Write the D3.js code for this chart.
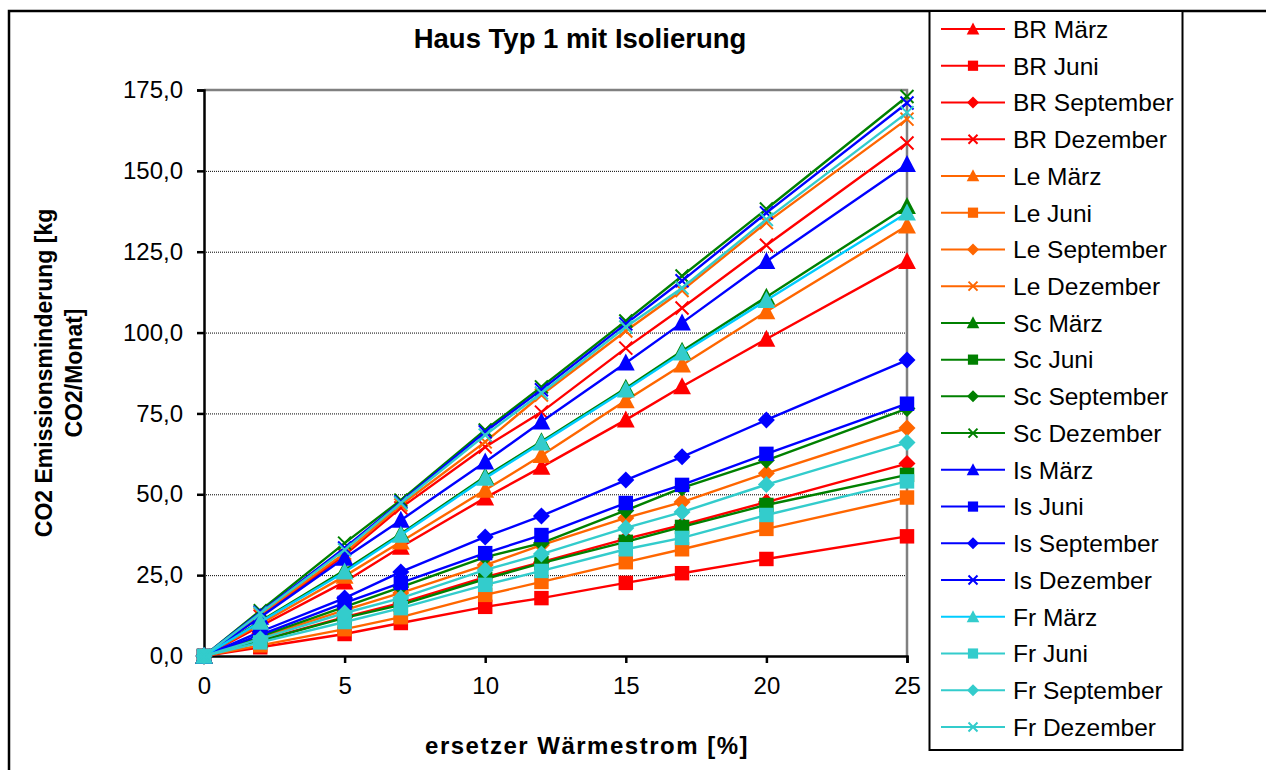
<!DOCTYPE html>
<html>
<head>
  <meta charset="utf-8">
  <title>Haus Typ 1 mit Isolierung</title>
  <script src="https://d3js.org/d3.v7.min.js"></script>
  <style>
    body { margin: 0; background: #fff; }
    svg { font-family: "Liberation Sans", Arial, sans-serif; }
  </style>
</head>
<body>
<div id="chart"></div>
<script>
  const width = 1266,
    height = 770;
  const margin = { top: 90, right: 359, bottom: 114, left: 204 };

  // data
  const xValues = [0, 2, 5, 7, 10, 12, 15, 17, 20, 25];
  const xTicks = [0, 5, 10, 15, 20, 25];
  const yTicks = [0, 25, 50, 75, 100, 125, 150, 175];
  const months = ['März', 'Juni', 'September', 'Dezember'];
  const regions = ['BR', 'Le', 'Sc', 'Is', 'Fr'];

  const brValues = [
    [0, 9.2, 22.9, 33.7, 48.9, 58.4, 73, 83.3, 98, 122],
    [0, 2.7, 6.8, 10.2, 15.2, 17.9, 22.6, 25.6, 30, 37],
    [0, 4.8, 12, 16.4, 24.4, 29, 36.2, 40.5, 47.6, 59.5],
    [0, 12.3, 31.2, 45.8, 64.6, 75.4, 95.2, 107.6, 127, 158.6]
  ];
  const leValues = [
    [0, 9.9, 24.7, 35.3, 51.3, 62, 79, 90, 106.5, 133],
    [0, 3.3, 8.3, 12, 18.9, 22.9, 29, 33, 39.3, 49],
    [0, 5.7, 14.2, 19.5, 28.1, 34.3, 42.7, 47.6, 56.5, 70.5],
    [0, 12.8, 31.8, 46.7, 66.2, 80.7, 100.5, 113, 134, 166]
  ];
  const scValues = [
    [0, 10.7, 26.5, 37.8, 55.5, 66.3, 82.8, 94.3, 111, 139],
    [0, 4.7, 11.8, 15.8, 23.8, 28.7, 35.3, 39.9, 46.7, 56],
    [0, 6.1, 15.2, 21.3, 30.6, 34.9, 45, 52, 60.5, 76.5],
    [0, 14, 34.9, 48.2, 69.9, 83.2, 103.6, 117.5, 138.2, 173]
  ];
  const isValues = [
    [0, 12, 30.3, 42, 60, 72.4, 90.6, 103, 122, 152],
    [0, 6.5, 16.4, 22.6, 31.8, 37.4, 47.3, 52.9, 62.5, 78],
    [0, 7.5, 17.9, 26, 36.8, 43.3, 54.4, 61.6, 73, 91.5],
    [0, 13.5, 33.4, 47.6, 69.3, 82.3, 102.7, 116, 137, 171]
  ];
  const frValues = [
    [0, 10.5, 26, 37.4, 55, 65.9, 82.3, 93.7, 110, 137],
    [0, 4.2, 10.5, 14.8, 22, 26.3, 33, 36.5, 43.6, 54],
    [0, 5.3, 13.3, 17.9, 26.6, 31.5, 39.6, 44.5, 53, 66],
    [0, 13.2, 32.8, 47.3, 68.3, 81.3, 101.7, 113.8, 135, 168]
  ];

  const regionValues = { BR: brValues, Le: leValues, Sc: scValues, Is: isValues, Fr: frValues };
  const regionColor = { BR: '#ff0000', Le: '#ff6600', Sc: '#008000', Is: '#0000ff', Fr: '#33cccc' };
  const shapes = ['triangle', 'square', 'diamond', 'cross'];

  var series = [];
  regions.forEach(function(r) {
    months.forEach(function(m, i) {
      series.push({
        name: r + ' ' + m,
        values: regionValues[r][i],
        shape: shapes[i],
        marker: regionColor[r],
        line: (r == 'Fr' && i == 0) ? '#00ccff' : regionColor[r]
      });
    });
  });

  var x = d3.scaleLinear()
    .domain([0, 25])
    .range([margin.left, width - margin.right]);
  var y = d3.scaleLinear()
    .domain([0, 175])
    .range([height - margin.bottom, margin.top]);

  var svg = d3.select('#chart')
    .append('svg')
    .attr('width', width)
    .attr('height', height);

  // outer frame
  svg.append('path')
    .attr('d', 'M9,' + (height + 5) + 'V11H' + (width + 5))
    .attr('fill', 'none')
    .attr('stroke', '#000')
    .attr('stroke-width', 2.5);

  // gridlines
  svg.append('g')
    .selectAll('line')
    .data(yTicks.slice(1, -1))
    .enter()
    .append('line')
    .attr('x1', x(0))
    .attr('x2', x(25))
    .attr('y1', function(d) { return y(d) + 0.5; })
    .attr('y2', function(d) { return y(d) + 0.5; })
    .attr('stroke', '#000')
    .attr('stroke-width', 1)
    .style('stroke-dasharray', '1, 1');

  // plot area border (top + right), grey
  svg.append('path')
    .attr('d', 'M' + x(0) + ',' + y(175) + 'H' + x(25) + 'V' + y(0))
    .attr('fill', 'none')
    .attr('stroke', '#808080')
    .attr('stroke-width', 2.5);

  // axes
  var yAxis = svg.append('g')
    .attr('transform', 'translate(' + x(0) + ',0)')
    .call(d3.axisLeft(y).tickValues(yTicks).tickSize(7).tickPadding(14)
      .tickFormat(function(d) { return d3.format('.1f')(d).replace('.', ','); }));
  var xAxis = svg.append('g')
    .attr('transform', 'translate(0,' + y(0) + ')')
    .call(d3.axisBottom(x).tickValues(xTicks).tickSize(7).tickPadding(14));

  [xAxis, yAxis].forEach(function(a) {
    a.select('.domain').attr('stroke-width', 2.5);
    a.selectAll('.tick line').attr('stroke-width', 2.5);
    a.selectAll('.tick text')
      .attr('font-size', '24px')
      .attr('fill', '#000')
      .style('font-family', '"Liberation Sans", Arial, sans-serif');
  });
  xAxis.selectAll('.tick text').attr('dy', '0.71em');

  function marker(g, shape, color, s) {
    if (shape == 'cross') {
      g.append('path')
        .attr('d', 'M' + (-s) + ',' + (-s) + 'L' + s + ',' + s + 'M' + (-s) + ',' + s + 'L' + s + ',' + (-s))
        .attr('stroke', color)
        .attr('stroke-width', 2)
        .attr('fill', 'none');
    } else if (shape == 'triangle') {
      g.append('path')
        .attr('d', 'M0,' + (-s * 1.1) + 'L' + (s * 1.05) + ',' + (s * 0.9) + 'L' + (-s * 1.05) + ',' + (s * 0.9) + 'Z')
        .attr('fill', color);
    } else if (shape == 'square') {
      g.append('rect')
        .attr('x', -s * 0.85).attr('y', -s * 0.85)
        .attr('width', s * 1.7).attr('height', s * 1.7)
        .attr('fill', color);
    } else {
      g.append('path')
        .attr('d', 'M0,' + (-s) + 'L' + s + ',0L0,' + s + 'L' + (-s) + ',0Z')
        .attr('fill', color);
    }
  }

  var line = d3.line()
    .x(function(d, i) { return x(xValues[i]); })
    .y(function(d) { return y(d); });

  var plot = svg.append('g');
  series.forEach(function(s) {
    var g = plot.append('g');
    g.append('path')
      .attr('d', line(s.values))
      .attr('fill', 'none')
      .attr('stroke', s.line)
      .attr('stroke-width', 2.4);
    s.values.forEach(function(v, i) {
      var m = g.append('g')
        .attr('transform', 'translate(' + x(xValues[i]) + ',' + y(v) + ')');
      marker(m, s.shape, s.marker, s.shape == 'cross' ? 6.5 : 8.5);
    });
  });

  // titles
  svg.append('text')
    .text('Haus Typ 1 mit Isolierung')
    .attr('x', 580)
    .attr('y', 48)
    .attr('text-anchor', 'middle')
    .attr('font-size', '27.5px')
    .attr('font-weight', 'bold');

  svg.append('text')
    .text('ersetzer Wärmestrom [%]')
    .attr('x', 587)
    .attr('y', 754)
    .attr('text-anchor', 'middle')
    .attr('font-size', '24px')
    .attr('font-weight', 'bold')
    .style('letter-spacing', '1.5px');

  var yTitle = svg.append('text')
    .attr('transform', 'translate(52,373) rotate(-90)')
    .attr('text-anchor', 'middle')
    .attr('font-size', '23px')
    .attr('font-weight', 'bold');
  yTitle.append('tspan').attr('x', 0).attr('dy', 0).text('CO2 Emissionsminderung [kg');
  yTitle.append('tspan').attr('x', 0).attr('dy', 30).text('CO2/Monat]');

  // legend
  var legend = svg.append('g');
  legend.append('rect')
    .attr('x', 929.5)
    .attr('y', 11)
    .attr('width', 253)
    .attr('height', 739)
    .attr('fill', '#fff')
    .attr('stroke', '#000')
    .attr('stroke-width', 2);

  var legendY = d3.scalePoint()
    .domain(series.map(function(s) { return s.name; }))
    .range([29, 727]);

  series.forEach(function(s) {
    var g = legend.append('g')
      .attr('transform', 'translate(0,' + legendY(s.name) + ')');
    g.append('line')
      .attr('x1', 941).attr('x2', 1005)
      .attr('stroke', s.line)
      .attr('stroke-width', 2);
    var m = g.append('g').attr('transform', 'translate(973,0)');
    marker(m, s.shape, s.marker, s.shape == 'cross' ? 4.5 : 6);
    g.append('text')
      .text(s.name)
      .attr('x', 1013)
      .attr('dy', '0.36em')
      .attr('font-size', '24.5px');
  });
</script>
</body>
</html>
